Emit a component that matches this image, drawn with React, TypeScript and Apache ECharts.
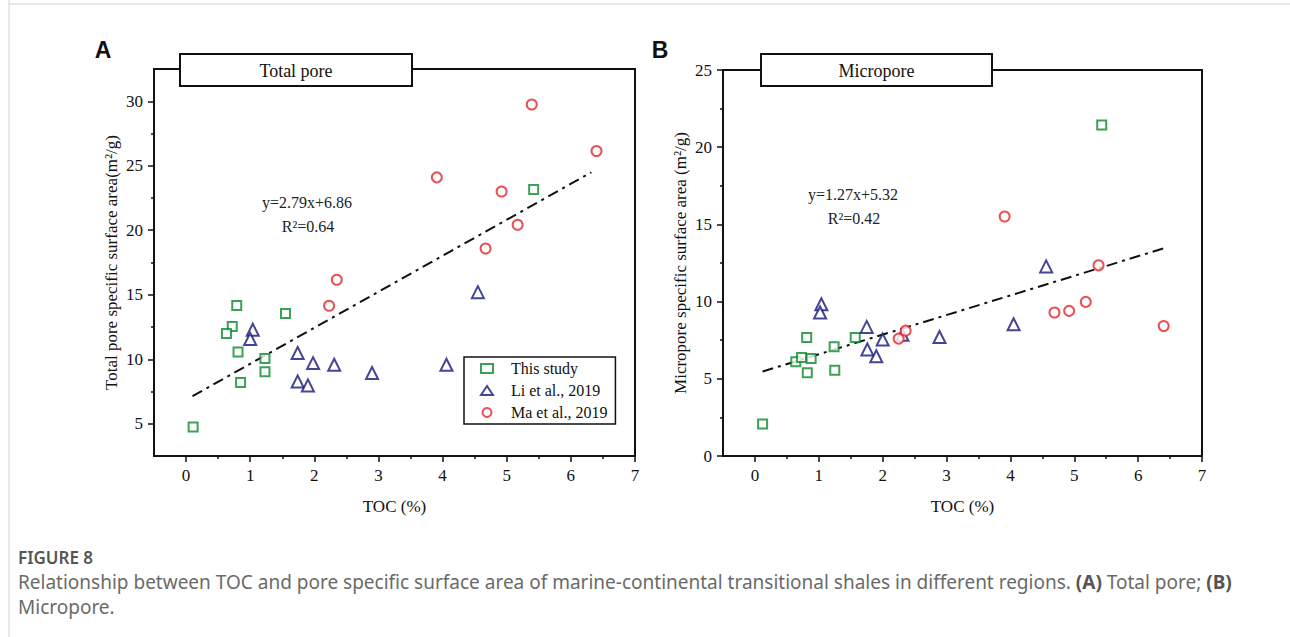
import React, { useEffect, useRef } from "react";
import * as echarts from "echarts";

// ---- Panel A: total pore specific surface area vs TOC ----
const thisStudyA: number[][] = [
  [0.11, 4.74], [0.79, 14.17], [0.72, 12.54], [0.63, 12.0], [0.81, 10.56],
  [0.85, 8.2], [1.23, 10.06], [1.23, 9.03], [1.55, 13.55], [5.42, 23.16],
];
const liA: number[][] = [
  [1.04, 12.29], [1.0, 11.57], [1.74, 10.48], [1.98, 9.7], [2.31, 9.57],
  [1.74, 8.28], [1.9, 7.97], [2.9, 8.93], [4.06, 9.57], [4.55, 15.2],
];
const maA: number[][] = [
  [2.35, 16.16], [2.23, 14.15], [3.91, 24.1], [5.39, 29.75],
  [6.4, 26.14], [4.92, 23.0], [5.17, 20.43], [4.67, 18.59],
];
const fitA = [2.79, 6.86]; // slope, intercept
const r2A = 0.64;
const fitRangeA = [0.1, 6.32];

// ---- Panel B: micropore specific surface area vs TOC ----
const thisStudyB: number[][] = [
  [0.12, 2.07], [0.81, 7.67], [0.64, 6.1], [0.73, 6.38], [0.88, 6.31],
  [0.82, 5.39], [1.24, 7.07], [1.25, 5.56], [1.57, 7.67], [5.43, 21.44],
];
const liB: number[][] = [
  [1.04, 9.83], [1.02, 9.29], [1.75, 8.36], [2.0, 7.54], [2.31, 7.85],
  [1.76, 6.9], [1.9, 6.46], [2.89, 7.71], [4.05, 8.53], [4.56, 12.28],
];
const maB: number[][] = [
  [2.25, 7.6], [2.36, 8.12], [3.91, 15.51], [5.38, 12.35],
  [4.69, 9.29], [4.92, 9.4], [5.18, 9.98], [6.4, 8.42],
];
const fitB = [1.27, 5.32];
const r2B = 0.42;
const fitRangeB = [0.12, 6.41];

// ---- Axis ticks ----
const xMajor = [0, 1, 2, 3, 4, 5, 6, 7];
const xMinor = [0.5, 1.5, 2.5, 3.5, 4.5, 5.5, 6.5];
const yMajorA = [5, 10, 15, 20, 25, 30];
const yMinorA = [7.5, 12.5, 17.5, 22.5, 27.5];
const yMajorB = [0, 5, 10, 15, 20, 25];
const yMinorB = [2.5, 7.5, 12.5, 17.5, 22.5];

const seriesNames = ["This study", "Li et al., 2019", "Ma et al., 2019"];
const colors = ["#0b8a2c", "#16167c", "#e3262a"];

const serif = "Liberation Serif";
const ink = "#111";

// a labelled axis with major ticks, plus an unlabelled twin carrying the minor ticks
function tickAxis(common: any, major: number[], minor: number[], name: string, nameGap: number) {
  return [
    {
      ...common,
      name, nameLocation: "middle", nameGap,
      nameTextStyle: { fontFamily: serif, fontSize: 17, color: ink },
      axisLine: { show: true, onZero: false, lineStyle: { color: ink, width: 2 } },
      axisTick: { show: true, customValues: major, length: 6, lineStyle: { color: ink, width: 1.5 } },
      axisLabel: { show: true, customValues: major, margin: 11, fontFamily: serif, fontSize: 17, color: ink },
      splitLine: { show: false },
    },
    {
      ...common,
      axisLine: { show: false, onZero: false },
      axisTick: { show: true, customValues: minor, length: 3, lineStyle: { color: ink, width: 1.5 } },
      axisLabel: { show: false },
      splitLine: { show: false },
    },
  ];
}

function fitLine(coef: number[], range: number[]) {
  return range.map((x) => [x, coef[0] * x + coef[1]]);
}

function panelSeries(axisBase: number, groups: number[][][], coef: number[], range: number[]) {
  const symbols = ["emptyRect", "emptyTriangle", "emptyCircle"];
  const sizes = [9, 12, 10];
  const out: any[] = [
    {
      type: "line", xAxisIndex: axisBase, yAxisIndex: axisBase,
      data: fitLine(coef, range), symbol: "none", z: 1,
      lineStyle: { color: "#111", width: 2, type: [11, 5, 3, 5] },
      silent: true,
    },
  ];
  groups.forEach((g, i) => {
    out.push({
      type: "scatter", name: seriesNames[i], xAxisIndex: axisBase, yAxisIndex: axisBase,
      data: g, symbol: symbols[i], symbolSize: sizes[i], z: 3,
      itemStyle: { color: colors[i], borderColor: colors[i], borderWidth: 2 },
    });
  });
  return out;
}

function titleBox(x: number, w: number, label: string) {
  return {
    type: "group", z: 100,
    children: [
      { type: "rect", shape: { x, y: 54, width: w, height: 32 }, style: { fill: "#fff", stroke: "#111", lineWidth: 2 } },
      {
        type: "text", x: x + w / 2, y: 71,
        style: { text: label, fontFamily: serif, fontSize: 18, fill: ink, textAlign: "center", textVerticalAlign: "middle", align: "center", verticalAlign: "middle" },
      },
    ],
  };
}

function eqText(cx: number, cy: number, coef: number[], r2: number) {
  return {
    type: "group", z: 50,
    children: [
      {
        type: "text", x: cx, y: cy,
        style: { text: `y=${coef[0].toFixed(2)}x+${coef[1].toFixed(2)}`, fontFamily: serif, fontSize: 16, fill: "#222", textAlign: "center", textVerticalAlign: "middle", align: "center", verticalAlign: "middle" },
      },
      {
        type: "text", x: cx + 1, y: cy + 24,
        style: { text: `R²=${r2.toFixed(2)}`, fontFamily: serif, fontSize: 16, fill: "#222", textAlign: "center", textVerticalAlign: "middle", align: "center", verticalAlign: "middle" },
      },
    ],
  };
}

function panelLetter(cx: number, label: string) {
  return {
    type: "text", x: cx, y: 50, z: 50,
    style: { text: label, fontFamily: "Liberation Sans", fontWeight: "bold", fontSize: 23, fill: "#111", textAlign: "center", textVerticalAlign: "middle", align: "center", verticalAlign: "middle" },
  };
}

export default function App() {
  const ref = useRef<HTMLDivElement>(null);

  useEffect(() => {
    if (!ref.current) return;
    const chart = echarts.init(ref.current, null, { renderer: "svg" });

    const xCommon = (grid: number) => ({ type: "value", gridIndex: grid, min: -0.5, max: 7, position: "bottom" });
    const yCommon = (grid: number, min: number, max: number) => ({ type: "value", gridIndex: grid, min, max, position: "left" });

    const option: any = {
      animation: false,
      backgroundColor: "#fff",
      textStyle: { fontFamily: serif, fontSize: 17, color: ink },
      grid: [
        { left: 154, top: 69, width: 481, height: 387, show: true, borderColor: ink, borderWidth: 2, backgroundColor: "transparent" },
        { left: 723, top: 70, width: 479, height: 386, show: true, borderColor: ink, borderWidth: 2, backgroundColor: "transparent" },
      ],
      xAxis: [
        ...tickAxis(xCommon(0), xMajor, xMinor, "TOC (%)", 42),
        ...tickAxis(xCommon(1), xMajor, xMinor, "TOC (%)", 42),
      ],
      yAxis: [
        ...tickAxis(yCommon(0, 2.5, 32.5), yMajorA, yMinorA, "Total pore specific surface area(m²/g)", 34),
        ...tickAxis(yCommon(1, 0, 25), yMajorB, yMinorB, "Micropore specific surface area (m²/g)", 34),
      ],
      legend: {
        data: seriesNames,
        orient: "vertical",
        left: 464, top: 357,
        padding: [3, 8, 3, 16],
        itemGap: 5,
        itemWidth: 12, itemHeight: 9,
        borderColor: "#111", borderWidth: 1.5,
        backgroundColor: "#fff",
        selectedMode: false,
        textStyle: { fontFamily: serif, fontSize: 16, color: ink, lineHeight: 17, padding: [0, 0, 0, 13] },
      },
      series: [
        ...panelSeries(0, [thisStudyA, liA, maA], fitA, fitRangeA),
        ...panelSeries(2, [thisStudyB, liB, maB], fitB, fitRangeB),
      ],
      graphic: [
        { type: "line", shape: { x1: 9, y1: 0, x2: 9, y2: 637 }, style: { stroke: "#d4d4d4", lineWidth: 1 } },
        { type: "line", shape: { x1: 9, y1: 4, x2: 1290, y2: 4 }, style: { stroke: "#d4d4d4", lineWidth: 1 } },
        panelLetter(103, "A"),
        panelLetter(660, "B"),
        titleBox(180, 232, "Total pore"),
        titleBox(761, 231, "Micropore"),
        eqText(307, 202, fitA, r2A),
        eqText(853, 194, fitB, r2B),
        {
          type: "text", x: 18, y: 557,
          style: { text: "FIGURE 8", fontFamily: "Noto Sans", fontWeight: 600, fontSize: 17, fill: "#555", textVerticalAlign: "middle", verticalAlign: "middle" },
        },
        {
          type: "text", x: 18, y: 569,
          style: {
            text: "Relationship between TOC and pore specific surface area of marine-continental transitional shales in different regions. {b|(A)} Total pore; {b|(B)}\nMicropore.",
            fontFamily: "Noto Sans", fontSize: 19, fill: "#6a6a6a", lineHeight: 25,
            rich: { b: { fontFamily: "Noto Sans", fontSize: 19, fontWeight: "bold", fill: "#555", lineHeight: 25 } },
          },
        },
      ],
    };

    chart.setOption(option);
    return () => chart.dispose();
  }, []);

  return <div ref={ref} style={{ position: "absolute", left: 0, top: 0, width: 1290, height: 637 }} />;
}
